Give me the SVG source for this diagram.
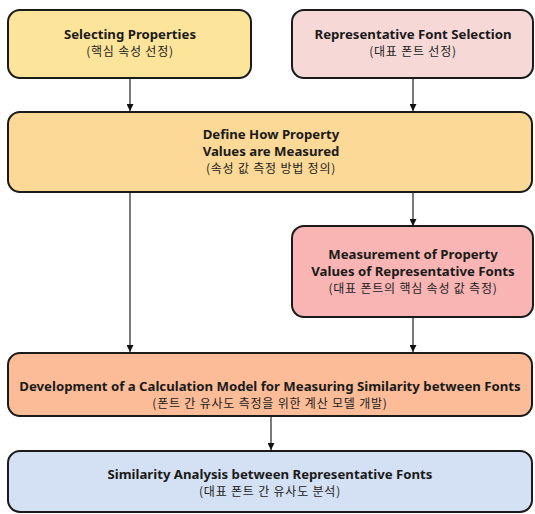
<svg xmlns="http://www.w3.org/2000/svg" width="535" height="514" viewBox="0 0 535 514">
<defs>
<marker id="ah" viewBox="0 0 10 10" refX="10" refY="5" markerWidth="7" markerHeight="7" orient="auto" markerUnits="userSpaceOnUse">
<path d="M0,0 L10,5 L0,10 z" fill="#111"/>
</marker>
<style>
.box{stroke:#1a1a1a;stroke-width:2}
.en{font-family:"Noto Sans","Noto Sans CJK KR",sans-serif;font-weight:bold;font-size:13.2px;fill:#1a1a1a;text-anchor:middle}
.ko{font-family:"Noto Sans CJK KR","Noto Sans",sans-serif;font-size:12px;letter-spacing:0.8px;fill:#222;text-anchor:middle}
.ln{stroke:#222;stroke-width:1.2;fill:none;marker-end:url(#ah)}
</style>
</defs>
<rect width="535" height="514" fill="#fff"/>
<g id="connectors">
<line class="ln" x1="130" y1="78" x2="130" y2="111"/>
<line class="ln" x1="413" y1="78" x2="413" y2="111"/>
<line class="ln" x1="413" y1="192" x2="413" y2="226"/>
<line class="ln" x1="130" y1="192" x2="130" y2="352"/>
<line class="ln" x1="413" y1="317" x2="413" y2="352"/>
<line class="ln" x1="271" y1="416" x2="271" y2="450"/>
</g>
<g id="n1">
<rect class="box" x="8" y="10" width="243" height="68" rx="12" fill="#fde49b"/>
<text class="en" x="130" y="38.5">Selecting Properties</text>
<text class="ko" x="130" y="56">(핵심 속성 선정)</text>
</g>
<g id="n2">
<rect class="box" x="292" y="10" width="241" height="68" rx="12" fill="#f6d8d7"/>
<text class="en" x="413" y="38.5">Representative Font Selection</text>
<text class="ko" x="413" y="56">(대표 폰트 선정)</text>
</g>
<g id="n3">
<rect class="box" x="8" y="112" width="524" height="80" rx="12" fill="#fcd996"/>
<text class="en" x="271" y="139">Define How Property</text>
<text class="en" x="271" y="156">Values are Measured</text>
<text class="ko" x="271" y="173">(속성 값 측정 방법 정의)</text>
</g>
<g id="n4">
<rect class="box" x="292" y="226" width="241" height="91" rx="12" fill="#f8b5b4"/>
<text class="en" x="413" y="259">Measurement of Property</text>
<text class="en" x="413" y="276">Values of Representative Fonts</text>
<text class="ko" x="413" y="293">(대표 폰트의 핵심 속성 값 측정)</text>
</g>
<g id="n5">
<rect class="box" x="8" y="353" width="524" height="63" rx="12" fill="#fbbc97"/>
<text class="en" x="270" y="391">Development of a Calculation Model for Measuring Similarity between Fonts</text>
<text class="ko" x="270" y="408">(폰트 간 유사도 측정을 위한 계산 모델 개발)</text>
</g>
<g id="n6">
<rect class="box" x="8" y="451" width="524" height="61" rx="12" fill="#d4e0f3"/>
<text class="en" x="270" y="479">Similarity Analysis between Representative Fonts</text>
<text class="ko" x="270" y="496">(대표 폰트 간 유사도 분석)</text>
</g>
</svg>
